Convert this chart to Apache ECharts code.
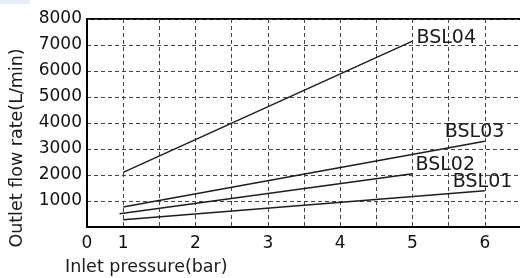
<!DOCTYPE html>
<html>
<head>
<meta charset="utf-8">
<script src="https://cdn.jsdelivr.net/npm/echarts@6/dist/echarts.min.js"></script>
<style>
    html, body { margin: 0; padding: 0; background: #fff; }
    #chart { width: 520px; height: 278px; }
</style>
</head>
<body>
<div id="chart"></div>
<script>
// pressure (bar) at start / end of each curve
var bsl01X = [1, 6];
var bsl01Y = [280, 1390];
var bsl02X = [0.95, 5];
var bsl02Y = [510, 2050];
var bsl03X = [1, 6];
var bsl03Y = [770, 3300];
var bsl04X = [1, 5];
var bsl04Y = [2100, 7150];

var seriesNames = ['BSL01', 'BSL02', 'BSL03', 'BSL04'];
var yTicks = [1000, 2000, 3000, 4000, 5000, 6000, 7000, 8000];
var xTicks = [1, 2, 3, 4, 5, 6];

function pairs(xs, ys) {
    var out = [];
    for (var i = 0; i < xs.length; i++) out.push([xs[i], ys[i]]);
    return out;
}

var font = 'DejaVu Sans';
var lineColor = '#1e1e1e';

function makeSeries(name, xs, ys, offset) {
    return {
        name: name,
        type: 'line',
        data: pairs(xs, ys),
        symbol: 'none',
        lineStyle: { color: lineColor, width: 1.5 },
        endLabel: {
            show: true,
            formatter: name,
            color: '#1a1a1a',
            fontFamily: font,
            fontSize: 19,
            align: 'left',
            verticalAlign: 'middle',
            distance: 0,
            offset: offset
        },
        silent: true,
        animation: false
    };
}

var chart = echarts.init(document.getElementById('chart'));
chart.setOption({
    animation: false,
    grid: {
        left: 87, right: -1, top: 19, bottom: 51,
        show: true, borderColor: '#000', borderWidth: 2,
        outerBoundsMode: 'none'
    },
    xAxis: {
        type: 'value',
        min: 0.5,
        max: 6.5,
        interval: 0.5,
        axisLine: { lineStyle: { color: '#000', width: 2 } },
        axisTick: { show: false },
        axisLabel: {
            color: '#111', fontFamily: font, fontSize: 17, margin: 8,
            formatter: function (v) {
                if (v === 0.5) return '0';
                if (xTicks.indexOf(v) >= 0) return String(v);
                return '';
            }
        },
        splitLine: { show: true, lineStyle: { color: '#444', type: [4, 3], width: 1 } }
    },
    yAxis: {
        type: 'value',
        min: 0,
        max: 8000,
        interval: 1000,
        axisLine: { show: true, lineStyle: { color: '#000', width: 2 } },
        axisTick: { show: false },
        axisLabel: {
            color: '#111', fontFamily: font, fontSize: 17, margin: 5,
            formatter: function (v) {
                return yTicks.indexOf(v) >= 0 ? String(v) : '';
            }
        },
        splitLine: { show: true, lineStyle: { color: '#444', type: [4, 3], width: 1 } }
    },
    graphic: [
        {
            type: 'rect', left: 0, top: 0,
            shape: { width: 30, height: 4 },
            style: { fill: '#e3eefa' }
        },
        {
            type: 'text', x: 65, y: 267,
            style: {
                text: 'Inlet pressure(bar)', fill: '#1a1a1a',
                font: '17.5px "DejaVu Sans"', textAlign: 'left', textVerticalAlign: 'middle'
            }
        },
        {
            type: 'text', x: 17, y: 148, rotation: Math.PI / 2,
            style: {
                text: 'Outlet flow rate(L/min)', fill: '#1a1a1a',
                font: '17.5px "DejaVu Sans"', textAlign: 'center', textVerticalAlign: 'middle'
            }
        }
    ],
    series: [
        makeSeries(seriesNames[0], bsl01X, bsl01Y, [-32, -9]),
        makeSeries(seriesNames[1], bsl02X, bsl02Y, [3, -9]),
        makeSeries(seriesNames[2], bsl03X, bsl03Y, [-40, -9]),
        makeSeries(seriesNames[3], bsl04X, bsl04Y, [4, -3])
    ]
});
</script>
</body>
</html>
